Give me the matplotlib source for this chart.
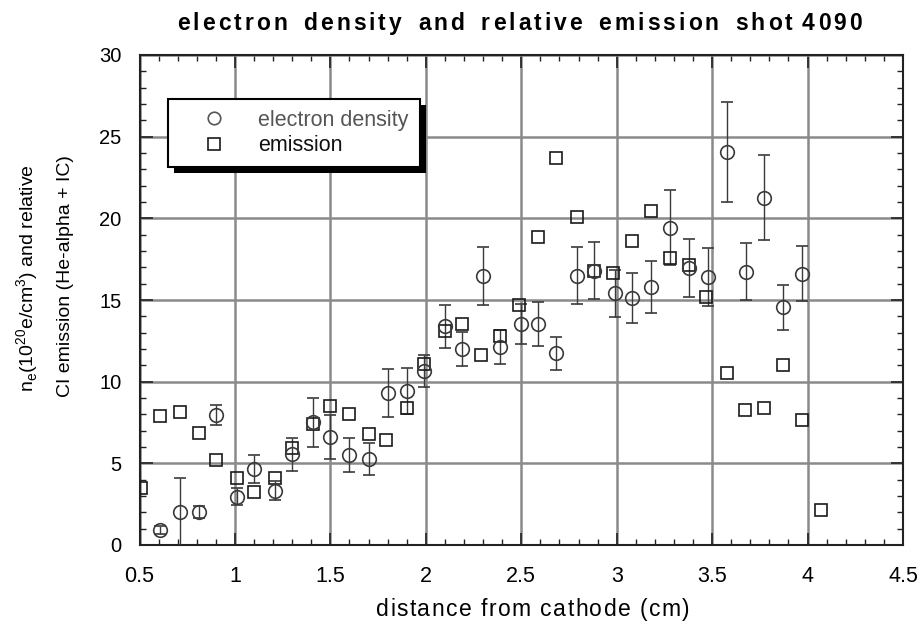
import matplotlib
matplotlib.use('Agg')
import matplotlib.pyplot as plt
from matplotlib.lines import Line2D
from matplotlib.patches import Rectangle
from matplotlib.transforms import IdentityTransform
from matplotlib.ticker import MultipleLocator, FixedLocator, FixedFormatter
from matplotlib.font_manager import FontProperties, findfont
from matplotlib.ft2font import FT2Font

plt.rcParams['font.family'] = ['Liberation Sans', 'DejaVu Sans']

# electron density (10^20 e/cm^3) with error bars
ne_x = [0.61, 0.71, 0.81, 0.90, 1.01, 1.10, 1.21, 1.30, 1.41, 1.50, 1.60, 1.70,
        1.80, 1.90, 1.99, 2.10, 2.19, 2.30, 2.39, 2.50, 2.59, 2.68, 2.79, 2.88,
        2.99, 3.08, 3.18, 3.28, 3.38, 3.48, 3.58, 3.68, 3.77, 3.87, 3.97]
ne_y = [0.9, 2.0, 2.0, 7.96, 2.96, 4.65, 3.33, 5.55, 7.51, 6.63, 5.51, 5.27,
        9.31, 9.43, 10.65, 13.39, 12.0, 16.49, 12.12, 13.55, 13.55, 11.74, 16.49, 16.8,
        15.41, 15.14, 15.78, 19.43, 16.94, 16.41, 24.07, 16.74, 21.27, 14.56, 16.61]
ne_err = [0.25, 2.1, 0.37, 0.62, 0.5, 0.88, 0.6, 1.0, 1.5, 1.35, 1.04, 1.0,
          1.46, 1.4, 0.97, 1.33, 1.04, 1.78, 1.05, 1.22, 1.35, 1.02, 1.73, 1.76,
          1.43, 1.52, 1.58, 2.3, 1.77, 1.76, 3.05, 1.75, 2.62, 1.38, 1.7]

# relative CI emission
em_x = [0.51, 0.61, 0.71, 0.81, 0.90, 1.01, 1.10, 1.21, 1.30, 1.41, 1.50, 1.60,
        1.70, 1.79, 1.90, 1.99, 2.10, 2.19, 2.29, 2.39, 2.49, 2.59, 2.68, 2.79,
        2.88, 2.98, 3.08, 3.18, 3.28, 3.38, 3.47, 3.58, 3.67, 3.77, 3.87, 3.97, 4.07]
em_y = [3.47, 7.88, 8.13, 6.88, 5.18, 4.08, 3.23, 4.08, 5.92, 7.39, 8.49, 8.0,
        6.78, 6.41, 8.37, 11.06, 13.12, 13.51, 11.65, 12.8, 14.70, 18.88, 23.72, 20.09,
        16.8, 16.68, 18.62, 20.43, 17.56, 17.15, 15.19, 10.55, 8.25, 8.37, 11.04, 7.64, 2.14]

xtick_vals = [0.5, 1, 1.5, 2, 2.5, 3, 3.5, 4, 4.5]
xtick_labels = ['0.5', '1', '1.5', '2', '2.5', '3', '3.5', '4', '4.5']
ytick_vals = [0, 5, 10, 15, 20, 25, 30]
ytick_labels = ['0', '5', '10', '15', '20', '25', '30']

title = 'electron  density  and  relative  emission  shot 4090'
xlabel = 'distance from cathode (cm)'
legend_labels = ['electron density', 'emission']

W, H = 923, 630
fig = plt.figure(figsize=(W / 100, H / 100), dpi=100)
ax = fig.add_axes([139.5 / W, 85 / H, 763.5 / W, 490 / H])

ax.set_xlim(0.5, 4.5)
ax.set_ylim(0, 30)
ax.xaxis.set_major_locator(FixedLocator(xtick_vals))
ax.xaxis.set_major_formatter(FixedFormatter(xtick_labels))
ax.xaxis.set_minor_locator(MultipleLocator(0.1))
ax.yaxis.set_major_locator(FixedLocator(ytick_vals))
ax.yaxis.set_major_formatter(FixedFormatter(ytick_labels))
ax.yaxis.set_minor_locator(MultipleLocator(1))

ax.grid(True, which='major', color='#8a8a8a', lw=1.8)
ax.set_axisbelow(True)
ax.tick_params(which='both', direction='in', top=True, right=True, color='#222222')
ax.tick_params(which='major', length=9, width=1.2)
ax.tick_params(which='minor', length=4.5, width=1.0)
ax.tick_params(axis='x', which='major', pad=15, labelsize=15.5)
ax.tick_params(axis='y', which='major', pad=13, labelsize=14.5)
for sp in ax.spines.values():
    sp.set_color('#222222')
    sp.set_linewidth(1.5)

ax.errorbar(ne_x, ne_y, yerr=ne_err, fmt='o', ms=9.8, mfc='none', mec='#3a3a3a', mew=1.2,
            ecolor='#3a3a3a', elinewidth=1.0, capsize=4, capthick=1.0, zorder=3)
ax.plot(em_x, em_y, 's', ms=9, mfc='none', mec='#1a1a1a', mew=1.2, zorder=3)

handles = [Line2D([], [], marker='o', ls='none', ms=9, mfc='none', mec='#555555', mew=1.2),
           Line2D([], [], marker='s', ls='none', ms=8.5, mfc='none', mec='#1a1a1a', mew=1.2)]
leg = ax.legend(handles, legend_labels, loc='upper left', bbox_to_anchor=(0.0373, 0.910),
                borderaxespad=0, fancybox=False, edgecolor='black', framealpha=1,
                fontsize=15.5, borderpad=0.5, handlelength=3.3, handletextpad=0.4,
                labelspacing=0.2)
leg.get_frame().set_linewidth(1.5)
leg.set_zorder(5)
leg.get_texts()[0].set_color('#555555')
leg.get_texts()[1].set_color('#111111')

fig.text(28 / W, 1 - 278 / H,
         r'n$_\mathregular{e}$(10$^\mathregular{20}$e/cm$^\mathregular{3}$) and relative',
         rotation=90, ha='center', va='center', fontsize=14)
fig.text(65 / W, 1 - 276 / H, 'CI emission (He-alpha + IC)',
         rotation=90, ha='center', va='center', fontsize=14)


def advances(s, fs, weight):
    font = FT2Font(findfont(FontProperties(family='Liberation Sans', weight=weight)))
    font.set_size(fs, 100)
    return [font.load_char(ord(ch)).linearHoriAdvance / 65536 for ch in s]


def spaced_text(s, x_left, span, y_base, fs, weight='normal', gap=None):
    # lay out characters one by one (advance widths) so the text fills the span;
    # with a fixed letter gap the spaces take up the rest
    adv = advances(s, fs, weight)
    letters = sum(a for a, ch in zip(adv, s) if ch != ' ')
    nsp = s.count(' ')
    if gap is None:
        sp = fs * 100 / 72 * 0.278
        gap = (span - letters - nsp * sp) / (len(s) - 1)
    else:
        sp = (span - letters - gap * (len(s) - 1)) / nsp
    x = x_left
    for ch, a in zip(s, adv):
        if ch == ' ':
            x += sp + gap
            continue
        fig.text(x / W, 1 - y_base / H, ch, ha='left', va='baseline',
                 fontsize=fs, fontweight=weight)
        x += a + gap


spaced_text(title, 177, 685, 30, 16.5, weight='bold', gap=3.0)
spaced_text(xlabel, 376, 314, 616, 16.5)

# black drop shadow behind the legend box
fig.canvas.draw()
bb = leg.get_window_extent(fig.canvas.get_renderer())
ax.add_patch(Rectangle((bb.x0 + 6, bb.y0 - 6), bb.width, bb.height, transform=IdentityTransform(),
                       facecolor='black', edgecolor='none', zorder=4.9, clip_on=False))

fig.savefig('out.png', dpi=100)
